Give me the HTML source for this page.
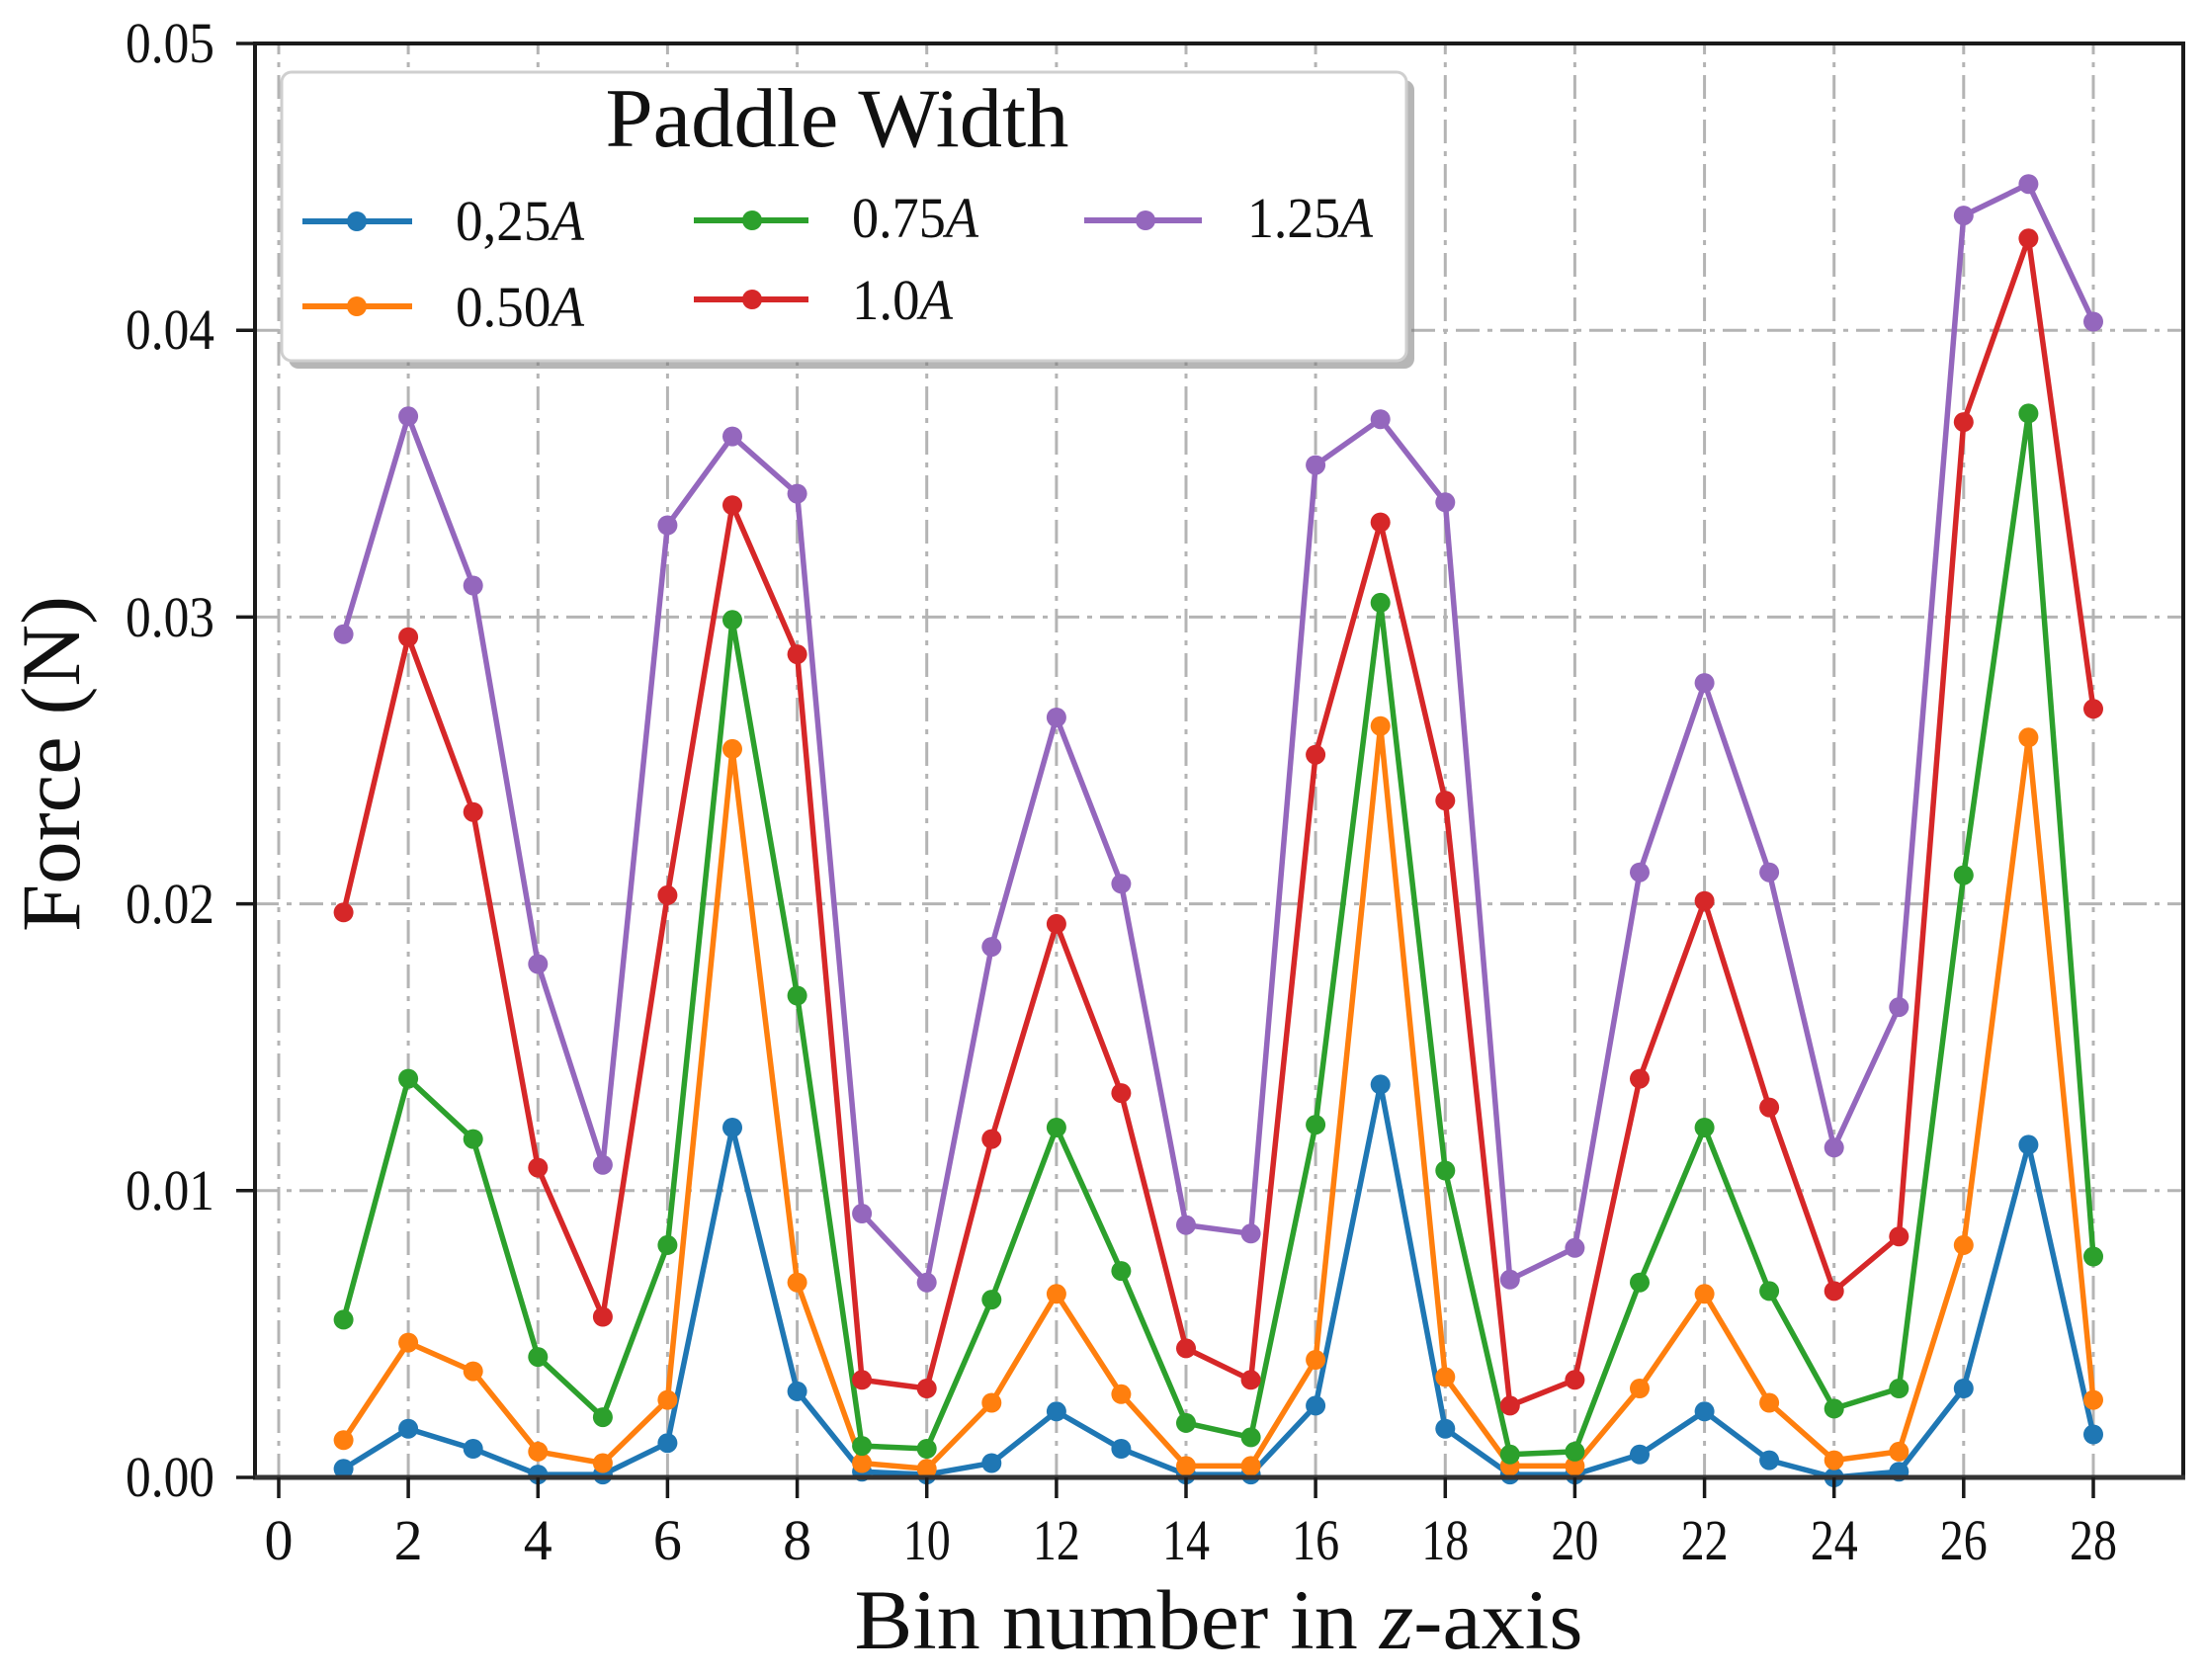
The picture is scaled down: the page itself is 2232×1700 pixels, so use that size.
<!DOCTYPE html>
<html>
<head>
<meta charset="utf-8">
<style>
html,body{margin:0;padding:0;background:#fff;}
svg{display:block;}
text{font-family:"Liberation Serif","DejaVu Serif",serif;fill:#111;}
</style>
</head>
<body>
<svg width="2232" height="1700" viewBox="0 0 2232 1700" xmlns="http://www.w3.org/2000/svg">
<defs>
<marker id="mb" markerUnits="userSpaceOnUse" markerWidth="22" markerHeight="22" refX="11" refY="11" viewBox="0 0 22 22"><circle cx="11" cy="11" r="10" fill="#1f77b4"/></marker>
<marker id="mo" markerUnits="userSpaceOnUse" markerWidth="22" markerHeight="22" refX="11" refY="11" viewBox="0 0 22 22"><circle cx="11" cy="11" r="10" fill="#ff7f0e"/></marker>
<marker id="mg" markerUnits="userSpaceOnUse" markerWidth="22" markerHeight="22" refX="11" refY="11" viewBox="0 0 22 22"><circle cx="11" cy="11" r="10" fill="#2ca02c"/></marker>
<marker id="mr" markerUnits="userSpaceOnUse" markerWidth="22" markerHeight="22" refX="11" refY="11" viewBox="0 0 22 22"><circle cx="11" cy="11" r="10" fill="#d62728"/></marker>
<marker id="mp" markerUnits="userSpaceOnUse" markerWidth="22" markerHeight="22" refX="11" refY="11" viewBox="0 0 22 22"><circle cx="11" cy="11" r="10" fill="#9467bd"/></marker>
</defs>
<rect x="0" y="0" width="2232" height="1700" fill="#fff"/>

<!-- grid -->
<g stroke="#b4b4b4" stroke-width="3" stroke-dasharray="24 8 5 8" fill="none">
<line x1="282" y1="1495" x2="282" y2="44"/>
<line x1="413.1" y1="1495" x2="413.1" y2="44"/>
<line x1="544.3" y1="1495" x2="544.3" y2="44"/>
<line x1="675.4" y1="1495" x2="675.4" y2="44"/>
<line x1="806.6" y1="1495" x2="806.6" y2="44"/>
<line x1="937.7" y1="1495" x2="937.7" y2="44"/>
<line x1="1068.9" y1="1495" x2="1068.9" y2="44"/>
<line x1="1200" y1="1495" x2="1200" y2="44"/>
<line x1="1331.1" y1="1495" x2="1331.1" y2="44"/>
<line x1="1462.3" y1="1495" x2="1462.3" y2="44"/>
<line x1="1593.4" y1="1495" x2="1593.4" y2="44"/>
<line x1="1724.6" y1="1495" x2="1724.6" y2="44"/>
<line x1="1855.7" y1="1495" x2="1855.7" y2="44"/>
<line x1="1986.8" y1="1495" x2="1986.8" y2="44"/>
<line x1="2118" y1="1495" x2="2118" y2="44"/>
<line x1="258" y1="1204.8" x2="2209" y2="1204.8"/>
<line x1="258" y1="914.6" x2="2209" y2="914.6"/>
<line x1="258" y1="624.4" x2="2209" y2="624.4"/>
<line x1="258" y1="334.2" x2="2209" y2="334.2"/>
</g>

<!-- series -->
<g fill="none" stroke-width="5.5" stroke-linejoin="round" stroke-linecap="round">
<polyline stroke="#1f77b4" marker-start="url(#mb)" marker-mid="url(#mb)" marker-end="url(#mb)" points="347.6,1486.3 413.1,1445.7 478.7,1466.0 544.3,1492.1 609.9,1492.1 675.4,1460.2 741.0,1141.0 806.6,1407.9 872.1,1489.2 937.7,1492.1 1003.3,1480.5 1068.9,1428.3 1134.4,1466.0 1200.0,1492.1 1265.6,1492.1 1331.1,1422.4 1396.7,1097.4 1462.3,1445.7 1527.8,1492.1 1593.4,1492.1 1659.0,1471.8 1724.6,1428.3 1790.1,1477.6 1855.7,1495 1921.3,1489.2 1986.8,1405.0 2052.4,1158.4 2118.0,1451.5"/>
<polyline stroke="#ff7f0e" marker-start="url(#mo)" marker-mid="url(#mo)" marker-end="url(#mo)" points="347.6,1457.3 413.1,1358.6 478.7,1387.6 544.3,1468.9 609.9,1480.5 675.4,1416.6 741.0,757.9 806.6,1297.7 872.1,1480.5 937.7,1486.3 1003.3,1419.5 1068.9,1309.3 1134.4,1410.8 1200.0,1483.4 1265.6,1483.4 1331.1,1376.0 1396.7,734.7 1462.3,1393.4 1527.8,1483.4 1593.4,1483.4 1659.0,1405.0 1724.6,1309.3 1790.1,1419.5 1855.7,1477.6 1921.3,1468.9 1986.8,1259.9 2052.4,746.3 2118.0,1416.6"/>
<polyline stroke="#2ca02c" marker-start="url(#mg)" marker-mid="url(#mg)" marker-end="url(#mg)" points="347.6,1335.4 413.1,1091.6 478.7,1152.6 544.3,1373.1 609.9,1434.1 675.4,1259.9 741.0,627.3 806.6,1007.5 872.1,1463.1 937.7,1466.0 1003.3,1315.1 1068.9,1141.0 1134.4,1286.1 1200.0,1439.9 1265.6,1454.4 1331.1,1138.1 1396.7,609.9 1462.3,1184.5 1527.8,1471.8 1593.4,1468.9 1659.0,1297.7 1724.6,1141.0 1790.1,1306.4 1855.7,1425.4 1921.3,1405.0 1986.8,885.6 2052.4,418.4 2118.0,1271.5"/>
<polyline stroke="#d62728" marker-start="url(#mr)" marker-mid="url(#mr)" marker-end="url(#mr)" points="347.6,923.3 413.1,644.7 478.7,821.7 544.3,1181.6 609.9,1332.5 675.4,905.9 741.0,511.2 806.6,662.1 872.1,1396.3 937.7,1405.0 1003.3,1152.6 1068.9,934.9 1134.4,1106.1 1200.0,1364.4 1265.6,1396.3 1331.1,763.7 1396.7,528.6 1462.3,810.1 1527.8,1422.4 1593.4,1396.3 1659.0,1091.6 1724.6,911.7 1790.1,1120.6 1855.7,1306.4 1921.3,1251.2 1986.8,427.1 2052.4,241.3 2118.0,717.3"/>
<polyline stroke="#9467bd" marker-start="url(#mp)" marker-mid="url(#mp)" marker-end="url(#mp)" points="347.6,641.8 413.1,421.3 478.7,592.5 544.3,975.5 609.9,1178.7 675.4,531.5 741.0,441.6 806.6,499.6 872.1,1228.0 937.7,1297.7 1003.3,958.1 1068.9,726.0 1134.4,894.3 1200.0,1239.6 1265.6,1248.3 1331.1,470.6 1396.7,424.2 1462.3,508.3 1527.8,1294.8 1593.4,1262.8 1659.0,882.7 1724.6,691.1 1790.1,882.7 1855.7,1161.3 1921.3,1019.1 1986.8,218.1 2052.4,186.2 2118.0,325.5"/>
</g>

<!-- legend -->
<rect x="292" y="81" width="1139" height="292" rx="10" ry="10" fill="#7a7a7a" opacity="0.55"/>
<rect x="285" y="73" width="1138" height="292" rx="10" ry="10" fill="#fff" stroke="#cfcfcf" stroke-width="3"/>
<text x="847" y="148" font-size="85" text-anchor="middle" textLength="469" lengthAdjust="spacingAndGlyphs">Paddle Width</text>
<g fill="none" stroke-width="6">
<line x1="306" y1="224" x2="417" y2="224" stroke="#1f77b4"/>
<line x1="306" y1="310" x2="417" y2="310" stroke="#ff7f0e"/>
<line x1="702" y1="223" x2="818" y2="223" stroke="#2ca02c"/>
<line x1="702" y1="303" x2="818" y2="303" stroke="#d62728"/>
<line x1="1097" y1="223" x2="1216" y2="223" stroke="#9467bd"/>
</g>
<circle cx="361" cy="224" r="10" fill="#1f77b4"/>
<circle cx="361" cy="310" r="10" fill="#ff7f0e"/>
<circle cx="761" cy="223" r="10" fill="#2ca02c"/>
<circle cx="761" cy="303" r="10" fill="#d62728"/>
<circle cx="1159" cy="223" r="10" fill="#9467bd"/>
<g font-size="58">
<text x="461" y="243" textLength="130" lengthAdjust="spacingAndGlyphs">0,25<tspan font-style="italic">A</tspan></text>
<text x="461" y="330" textLength="130" lengthAdjust="spacingAndGlyphs">0.50<tspan font-style="italic">A</tspan></text>
<text x="862" y="240" textLength="128" lengthAdjust="spacingAndGlyphs">0.75<tspan font-style="italic">A</tspan></text>
<text x="862" y="323" textLength="102" lengthAdjust="spacingAndGlyphs">1.0<tspan font-style="italic">A</tspan></text>
<text x="1262" y="240" textLength="127" lengthAdjust="spacingAndGlyphs">1.25<tspan font-style="italic">A</tspan></text>
</g>

<!-- spines -->
<rect x="258" y="44" width="1951" height="1451" fill="none" stroke="#1a1a1a" stroke-width="4"/>
<line x1="256" y1="1495" x2="2211" y2="1495" stroke="#333" stroke-width="5"/>

<!-- y ticks -->
<g stroke="#1a1a1a" stroke-width="3.5">
<line x1="239" y1="1495" x2="258" y2="1495"/>
<line x1="239" y1="1204.8" x2="258" y2="1204.8"/>
<line x1="239" y1="914.6" x2="258" y2="914.6"/>
<line x1="239" y1="624.4" x2="258" y2="624.4"/>
<line x1="239" y1="334.2" x2="258" y2="334.2"/>
<line x1="239" y1="44" x2="258" y2="44"/>
</g>
<g font-size="58" text-anchor="end">
<text x="217" y="1514" textLength="90" lengthAdjust="spacingAndGlyphs">0.00</text>
<text x="217" y="1224" textLength="90" lengthAdjust="spacingAndGlyphs">0.01</text>
<text x="217" y="934" textLength="90" lengthAdjust="spacingAndGlyphs">0.02</text>
<text x="217" y="644" textLength="90" lengthAdjust="spacingAndGlyphs">0.03</text>
<text x="217" y="353" textLength="90" lengthAdjust="spacingAndGlyphs">0.04</text>
<text x="217" y="63" textLength="90" lengthAdjust="spacingAndGlyphs">0.05</text>
</g>

<!-- x ticks -->
<g stroke="#1a1a1a" stroke-width="3.5">
<line x1="282" y1="1495" x2="282" y2="1516"/>
<line x1="413.1" y1="1495" x2="413.1" y2="1516"/>
<line x1="544.3" y1="1495" x2="544.3" y2="1516"/>
<line x1="675.4" y1="1495" x2="675.4" y2="1516"/>
<line x1="806.6" y1="1495" x2="806.6" y2="1516"/>
<line x1="937.7" y1="1495" x2="937.7" y2="1516"/>
<line x1="1068.9" y1="1495" x2="1068.9" y2="1516"/>
<line x1="1200" y1="1495" x2="1200" y2="1516"/>
<line x1="1331.1" y1="1495" x2="1331.1" y2="1516"/>
<line x1="1462.3" y1="1495" x2="1462.3" y2="1516"/>
<line x1="1593.4" y1="1495" x2="1593.4" y2="1516"/>
<line x1="1724.6" y1="1495" x2="1724.6" y2="1516"/>
<line x1="1855.7" y1="1495" x2="1855.7" y2="1516"/>
<line x1="1986.8" y1="1495" x2="1986.8" y2="1516"/>
<line x1="2118" y1="1495" x2="2118" y2="1516"/>
</g>
<g font-size="58" text-anchor="middle">
<text x="282" y="1578">0</text>
<text x="413.1" y="1578">2</text>
<text x="544.3" y="1578">4</text>
<text x="675.4" y="1578">6</text>
<text x="806.6" y="1578">8</text>
<text x="937.7" y="1578" textLength="48" lengthAdjust="spacingAndGlyphs">10</text>
<text x="1068.9" y="1578" textLength="48" lengthAdjust="spacingAndGlyphs">12</text>
<text x="1200" y="1578" textLength="48" lengthAdjust="spacingAndGlyphs">14</text>
<text x="1331.1" y="1578" textLength="48" lengthAdjust="spacingAndGlyphs">16</text>
<text x="1462.3" y="1578" textLength="48" lengthAdjust="spacingAndGlyphs">18</text>
<text x="1593.4" y="1578" textLength="48" lengthAdjust="spacingAndGlyphs">20</text>
<text x="1724.6" y="1578" textLength="48" lengthAdjust="spacingAndGlyphs">22</text>
<text x="1855.7" y="1578" textLength="48" lengthAdjust="spacingAndGlyphs">24</text>
<text x="1986.8" y="1578" textLength="48" lengthAdjust="spacingAndGlyphs">26</text>
<text x="2118" y="1578" textLength="48" lengthAdjust="spacingAndGlyphs">28</text>
</g>

<!-- axis labels -->
<text x="1233" y="1668" font-size="86" text-anchor="middle" textLength="737" lengthAdjust="spacingAndGlyphs">Bin number in <tspan font-style="italic">z</tspan>-axis</text>
<text transform="translate(80,773) rotate(-90)" x="0" y="0" font-size="85" text-anchor="middle" textLength="340" lengthAdjust="spacingAndGlyphs">Force (N)</text>
</svg>
</body>
</html>
